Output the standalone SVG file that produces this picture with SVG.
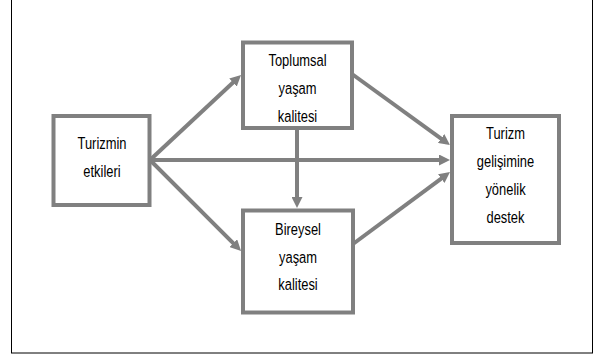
<svg xmlns="http://www.w3.org/2000/svg" width="595" height="355" viewBox="0 0 595 355">
<style>
.frame{fill:none;stroke:#000;stroke-width:1}
.box{fill:#fff;stroke:#808080;stroke-width:4}
.conn line{stroke:#808080;stroke-width:4;marker-end:url(#ah)}
text{font-family:"Liberation Sans",Arial,sans-serif;font-size:17px;fill:#000;text-anchor:middle}
</style>
<defs>
<marker id="ah" markerUnits="userSpaceOnUse" markerWidth="11" markerHeight="11" refX="3" refY="5.5" orient="auto">
<path d="M0,0 L11,5.5 L0,11 z" fill="#808080"/>
</marker>
</defs>
<rect x="0" y="0" width="595" height="355" fill="#fff"/>
<rect class="frame" x="11.5" y="-2" width="581" height="355"/>
<g id="connectors" class="conn">
<line x1="150" y1="160" x2="235.2" y2="80.5"/>
<line x1="150" y1="160" x2="442" y2="160"/>
<line x1="150" y1="160" x2="235.4" y2="245.3"/>
<line x1="352" y1="74" x2="443.5" y2="140.3"/>
<line x1="353" y1="244" x2="443.6" y2="176.8"/>
<line x1="297" y1="128" x2="297" y2="200"/>
</g>
<g id="turizmin-etkileri">
<rect class="box" x="53.5" y="116" width="96" height="89"/>
<text transform="translate(102,149) scale(0.76,1)">Turizmin</text>
<text transform="translate(102,176.5) scale(0.76,1)">etkileri</text>
</g>
<g id="toplumsal">
<rect class="box" x="243" y="42.5" width="109" height="85.5"/>
<text transform="translate(297.5,66) scale(0.76,1)">Toplumsal</text>
<text transform="translate(297.5,94) scale(0.76,1)">yaşam</text>
<text transform="translate(297.5,122) scale(0.76,1)">kalitesi</text>
</g>
<g id="bireysel">
<rect class="box" x="243" y="210.5" width="110" height="102"/>
<text transform="translate(298,235) scale(0.76,1)">Bireysel</text>
<text transform="translate(298,262.5) scale(0.76,1)">yaşam</text>
<text transform="translate(298,289.5) scale(0.76,1)">kalitesi</text>
</g>
<g id="turizm-destek">
<rect class="box" x="452" y="116" width="107" height="127"/>
<text transform="translate(505.5,139) scale(0.76,1)">Turizm</text>
<text transform="translate(505.5,167) scale(0.76,1)">gelişimine</text>
<text transform="translate(505.5,195) scale(0.76,1)">yönelik</text>
<text transform="translate(505.5,223) scale(0.76,1)">destek</text>
</g>
</svg>
